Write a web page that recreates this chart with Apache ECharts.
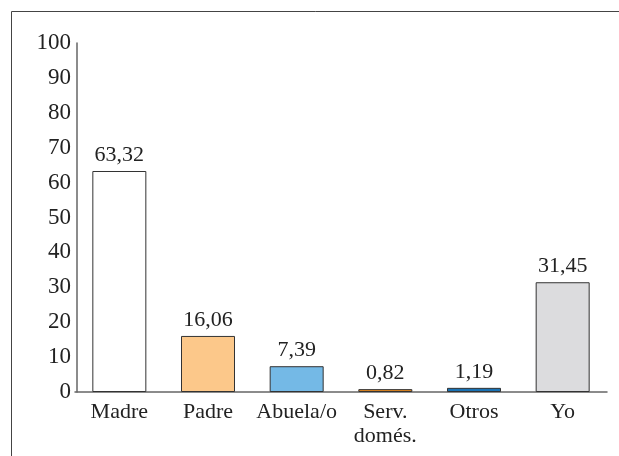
<!DOCTYPE html>
<html>
<head>
<meta charset="utf-8">
<style>
  html, body { margin: 0; padding: 0; background: #fff; }
  #chart { width: 619px; height: 456px; }
</style>
<script src="https://cdn.jsdelivr.net/npm/echarts@6/dist/echarts.min.js"></script>
</head>
<body>
<div id="chart"></div>
<script>
// datos
var categories = ["Madre", "Padre", "Abuela/o", "Serv.\ndomés.", "Otros", "Yo"];
var values = [63.32, 16.06, 7.39, 0.82, 1.19, 31.45];
var barColors = ["#ffffff", "#fcc88a", "#74b9e6", "#e88a1e", "#1a73b5", "#dcdcde"];
var yTicks = [0, 10, 20, 30, 40, 50, 60, 70, 80, 90, 100];

var serif = "Liberation Serif";

var chart = echarts.init(document.getElementById("chart"));

chart.setOption({
  animation: false,
  grid: { left: 75, right: 12, top: 43, bottom: 64, containLabel: false },
  graphic: [
    {
      type: "polyline",
      shape: { points: [[619, 11.5], [11.5, 11.5], [11.5, 456]] },
      style: { stroke: "#444", lineWidth: 1, fill: null }
    }
  ],
  xAxis: {
    type: "category",
    data: categories,
    axisLine: { lineStyle: { color: "#666", width: 1.5 } },
    axisTick: { show: false },
    axisLabel: {
      color: "#222",
      fontFamily: serif,
      fontSize: 22,
      lineHeight: 24,
      margin: 8,
      interval: 0
    }
  },
  yAxis: {
    type: "value",
    min: yTicks[0],
    max: yTicks[yTicks.length - 1],
    interval: 10,
    offset: -2,
    splitLine: { show: false },
    axisTick: { show: false },
    axisLine: { show: true, lineStyle: { color: "#666", width: 1.5 } },
    axisLabel: {
      color: "#222",
      fontFamily: serif,
      fontSize: 23,
      margin: 6
    }
  },
  series: [
    {
      type: "bar",
      barWidth: 54,
      data: values.map(function (v, i) {
        return {
          value: v,
          itemStyle: { color: barColors[i], borderColor: "#333", borderWidth: 1 }
        };
      }),
      label: {
        show: true,
        position: "top",
        distance: 5,
        color: "#222",
        fontFamily: serif,
        fontSize: 22,
        formatter: function (p) {
          return p.value.toFixed(2).replace(".", ",");
        }
      }
    }
  ]
});
</script>
</body>
</html>
